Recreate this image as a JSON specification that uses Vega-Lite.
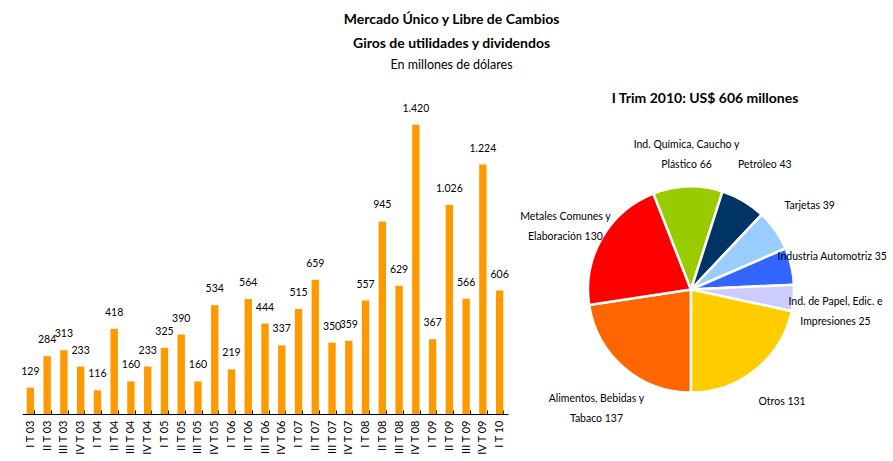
{
  "$schema": "https://vega.github.io/schema/vega-lite/v6.json",
  "background": "white",
  "padding": {"left": 16, "top": 12, "right": 0, "bottom": 0},
  "bounds": "flush",
  "spacing": 15,
  "title": {
    "text": ["Mercado Único y Libre de Cambios", "Giros de utilidades y dividendos"],
    "subtitle": "En millones de dólares",
    "anchor": "middle",
    "font": "Lato",
    "fontSize": 14,
    "fontWeight": "bold",
    "lineHeight": 24,
    "color": "black",
    "subtitleFont": "Lato",
    "subtitleFontSize": 12.5,
    "subtitleColor": "black",
    "subtitlePadding": 8,
    "offset": 17
  },
  "datasets": {
    "bars": [
      {"q": "I T 03", "v": 129}, {"q": "II T 03", "v": 284}, {"q": "III T 03", "v": 313}, {"q": "IV T 03", "v": 233},
      {"q": "I T 04", "v": 116}, {"q": "II T 04", "v": 418}, {"q": "III T 04", "v": 160}, {"q": "IV T 04", "v": 233},
      {"q": "I T 05", "v": 325}, {"q": "II T 05", "v": 390}, {"q": "III T 05", "v": 160}, {"q": "IV T 05", "v": 534},
      {"q": "I T 06", "v": 219}, {"q": "II T 06", "v": 564}, {"q": "III T 06", "v": 444}, {"q": "IV T 06", "v": 337},
      {"q": "I T 07", "v": 515}, {"q": "II T 07", "v": 659}, {"q": "III T 07", "v": 350}, {"q": "IV T 07", "v": 359},
      {"q": "I T 08", "v": 557}, {"q": "II T 08", "v": 945}, {"q": "III T 08", "v": 629}, {"q": "IV T 08", "v": 1420},
      {"q": "I T 09", "v": 367}, {"q": "II T 09", "v": 1026}, {"q": "III T 09", "v": 566}, {"q": "IV T 09", "v": 1224},
      {"q": "I T 10", "v": 606}
    ],
    "pie": [
      {"name": "Alimentos, Bebidas y|Tabaco", "value": 137},
      {"name": "Metales Comunes y|Elaboración", "value": 130},
      {"name": "Ind. Química, Caucho y|Plástico", "value": 66},
      {"name": "Petróleo", "value": 43},
      {"name": "Tarjetas", "value": 39},
      {"name": "Industria Automotriz", "value": 35},
      {"name": "Ind. de Papel, Edic. e|Impresiones", "value": 25},
      {"name": "Otros", "value": 131}
    ]
  },
  "hconcat": [
    {
      "width": 486,
      "height": 326,
      "data": {"name": "bars"},
      "encoding": {
        "x": {
          "field": "q", "type": "nominal", "sort": null,
          "scale": {"paddingInner": 0.56, "paddingOuter": 0.28},
          "axis": {
            "title": null, "labelAngle": -90, "labelAlign": "right", "labelBaseline": "middle",
            "labelFont": "Lato", "labelFontSize": 11, "labelColor": "black", "labelPadding": 10,
            "domainColor": "black", "tickColor": "black", "tickSize": -4, "tickBand": "extent", "grid": false
          }
        },
        "y": {"field": "v", "type": "quantitative", "scale": {"domain": [0, 1600]}, "axis": null}
      },
      "layer": [
        {"mark": {"type": "bar", "color": "#FF9900"}},
        {
          "mark": {"type": "text", "baseline": "bottom", "dy": -11, "font": "Lato", "fontSize": 10.5, "color": "black"},
          "encoding": {"text": {"field": "v", "type": "quantitative", "format": ",.0f"}}
        }
      ]
    },
    {
      "width": 336,
      "height": 403,
      "title": {"text": "I Trim 2010: US$ 606 millones", "offset": -18, "dx": 14, "font": "Lato", "fontSize": 14, "fontWeight": "bold", "color": "black"},
      "data": {"name": "pie"},
      "transform": [
        {"window": [{"op": "row_number", "as": "rn"}]},
        {"calculate": "datum.name + ' ' + datum.value", "as": "label"}
      ],
      "encoding": {
        "theta": {"field": "value", "type": "quantitative", "stack": true, "scale": {"range": [3.14159265, 9.42477796]}},
        "order": {"field": "rn", "type": "quantitative"}
      },
      "layer": [
        {
          "mark": {"type": "arc", "outerRadius": 103, "stroke": "white", "strokeWidth": 2.5},
          "encoding": {
            "color": {
              "field": "name", "type": "nominal", "legend": null,
              "scale": {
                "domain": ["Alimentos, Bebidas y|Tabaco", "Metales Comunes y|Elaboración", "Ind. Química, Caucho y|Plástico", "Petróleo", "Tarjetas", "Industria Automotriz", "Ind. de Papel, Edic. e|Impresiones", "Otros"],
                "range": ["#FF6600", "#FF0000", "#99CC00", "#003366", "#99CCFF", "#3366FF", "#CCCCFF", "#FFCC00"]
              }
            }
          }
        },
        {
          "mark": {"type": "text", "radius": 145, "lineBreak": "|", "font": "Lato", "fontSize": 10.5, "lineHeight": 20, "color": "black"},
          "encoding": {"text": {"field": "label", "type": "nominal"}}
        }
      ]
    }
  ],
  "config": {
    "view": {"stroke": null},
    "font": "Lato",
    "locale": {"number": {"decimal": ",", "thousands": ".", "grouping": [3], "currency": ["$", ""]}}
  }
}
